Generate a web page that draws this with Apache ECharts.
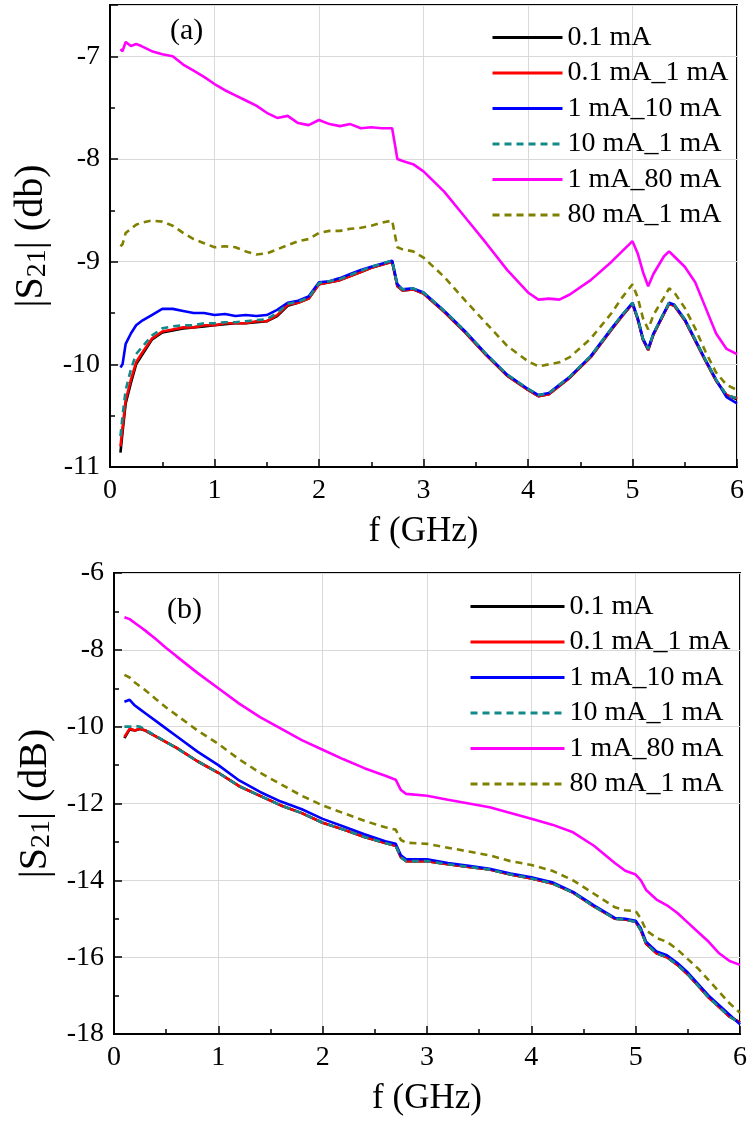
<!DOCTYPE html>
<html>
<head>
<meta charset="utf-8">
<script src="https://cdn.jsdelivr.net/npm/echarts@6/dist/echarts.min.js"></script>
<style>
  html, body { margin: 0; padding: 0; background: #fff; }
  #main { width: 750px; height: 1125px; }
</style>
</head>
<body>
<div id="main"></div>
<script>
// 图例名称
const names = ['0.1 mA', '0.1 mA_1 mA', '1 mA_10 mA', '10 mA_1 mA', '1 mA_80 mA', '80 mA_1 mA']

// (a) 频率点 (GHz)
const freqA = [0.1, 0.12, 0.15, 0.2, 0.25, 0.3, 0.4, 0.5, 0.6, 0.7,
  0.8, 0.9, 1.0, 1.1, 1.2, 1.3, 1.4, 1.5, 1.6, 1.7,
  1.8, 1.9, 2.0, 2.1, 2.2, 2.3, 2.4, 2.5, 2.6, 2.7,
  2.75, 2.8, 2.9, 3.0, 3.2, 3.4, 3.6, 3.8, 4.0, 4.1,
  4.2, 4.3, 4.4, 4.6, 4.8, 4.9, 5.0, 5.05, 5.1, 5.15,
  5.2, 5.3, 5.35, 5.4, 5.5, 5.6, 5.7, 5.8, 5.9, 6.0]

const a01 = [-10.86, -10.66, -10.38, -10.18, -10.0, -9.92, -9.76, -9.69, -9.67, -9.65,
  -9.64, -9.63, -9.62, -9.61, -9.6, -9.6, -9.59, -9.58, -9.53, -9.43,
  -9.4, -9.36, -9.22, -9.2, -9.18, -9.14, -9.1, -9.06, -9.03, -9.0,
  -9.24, -9.28, -9.27, -9.31, -9.49, -9.69, -9.91, -10.11, -10.25, -10.31,
  -10.29, -10.21, -10.13, -9.93, -9.66, -9.53, -9.41, -9.56, -9.76, -9.86,
  -9.71, -9.51, -9.41, -9.43, -9.57, -9.77, -9.97, -10.16, -10.3, -10.34]
const a01_1 = [-10.8, -10.62, -10.35, -10.15, -9.98, -9.9, -9.75, -9.68, -9.66, -9.64,
  -9.64, -9.62, -9.62, -9.6, -9.6, -9.6, -9.58, -9.58, -9.52, -9.42,
  -9.4, -9.36, -9.22, -9.2, -9.18, -9.14, -9.1, -9.06, -9.03, -9.0,
  -9.24, -9.28, -9.27, -9.31, -9.49, -9.69, -9.91, -10.11, -10.25, -10.31,
  -10.29, -10.21, -10.13, -9.93, -9.66, -9.53, -9.41, -9.56, -9.76, -9.86,
  -9.71, -9.51, -9.41, -9.43, -9.57, -9.77, -9.97, -10.16, -10.3, -10.33]
const a1_10 = [-10.03, -10.0, -9.8, -9.7, -9.62, -9.58, -9.52, -9.46, -9.46, -9.48,
  -9.5, -9.5, -9.52, -9.51, -9.53, -9.52, -9.53, -9.52, -9.47, -9.4,
  -9.38, -9.34, -9.2, -9.19, -9.16, -9.12, -9.08, -9.05, -9.02, -8.99,
  -9.22, -9.27, -9.26, -9.3, -9.48, -9.68, -9.9, -10.1, -10.24, -10.3,
  -10.28, -10.2, -10.12, -9.92, -9.65, -9.52, -9.4, -9.55, -9.75, -9.85,
  -9.7, -9.5, -9.4, -9.42, -9.56, -9.76, -9.96, -10.15, -10.32, -10.38]
const a10_1 = [-10.7, -10.5, -10.25, -10.05, -9.9, -9.84, -9.72, -9.65, -9.63, -9.62,
  -9.62, -9.6, -9.6, -9.59, -9.59, -9.58, -9.57, -9.56, -9.5, -9.41,
  -9.39, -9.35, -9.21, -9.19, -9.17, -9.13, -9.09, -9.05, -9.02, -8.99,
  -9.23, -9.27, -9.26, -9.3, -9.48, -9.68, -9.9, -10.1, -10.24, -10.3,
  -10.28, -10.2, -10.12, -9.92, -9.65, -9.52, -9.4, -9.55, -9.75, -9.85,
  -9.7, -9.5, -9.4, -9.42, -9.56, -9.76, -9.96, -10.15, -10.3, -10.33]
const a1_80 = [-6.93, -6.95, -6.86, -6.9, -6.88, -6.9, -6.95, -6.98, -7.0, -7.08,
  -7.14, -7.2, -7.27, -7.33, -7.38, -7.43, -7.48, -7.55, -7.6, -7.58,
  -7.65, -7.67, -7.62, -7.66, -7.68, -7.66, -7.7, -7.69, -7.7, -7.7,
  -8.0, -8.02, -8.05, -8.12, -8.32, -8.57, -8.82, -9.08, -9.3, -9.37,
  -9.36, -9.37, -9.32, -9.18, -9.0, -8.9, -8.8, -8.92, -9.1, -9.24,
  -9.12, -8.95, -8.9, -8.95, -9.05, -9.2, -9.45, -9.7, -9.85, -9.9]
const a80_1 = [-8.85, -8.83, -8.72, -8.68, -8.64, -8.62, -8.6, -8.61, -8.65, -8.72,
  -8.78, -8.82, -8.86, -8.85, -8.86, -8.9, -8.93, -8.92, -8.88, -8.84,
  -8.8, -8.78, -8.72, -8.7, -8.7, -8.68, -8.67, -8.65, -8.62, -8.6,
  -8.86, -8.88, -8.9, -8.96, -9.15, -9.38, -9.6, -9.82, -9.97, -10.02,
  -10.0, -9.98, -9.93, -9.75, -9.5, -9.35, -9.22, -9.35, -9.55, -9.66,
  -9.52, -9.35, -9.26, -9.3, -9.45, -9.65, -9.88, -10.08, -10.2, -10.25]

// (b) 频率点 (GHz)
const freqB = [0.1, 0.15, 0.2, 0.25, 0.3, 0.4, 0.5, 0.6, 0.8, 1.0,
  1.2, 1.4, 1.6, 1.8, 2.0, 2.2, 2.4, 2.6, 2.7, 2.75,
  2.8, 3.0, 3.2, 3.4, 3.6, 3.8, 4.0, 4.2, 4.4, 4.6,
  4.8, 4.9, 5.0, 5.05, 5.1, 5.2, 5.3, 5.4, 5.5, 5.6,
  5.7, 5.8, 5.9, 6.0]

const b01 = [-10.3, -10.07, -10.1, -10.06, -10.1, -10.25, -10.4, -10.55, -10.9, -11.2,
  -11.55, -11.8, -12.05, -12.25, -12.5, -12.68, -12.87, -13.03, -13.1, -13.4,
  -13.5, -13.5, -13.58, -13.65, -13.72, -13.85, -13.95, -14.08, -14.32, -14.68,
  -15.0, -15.02, -15.08, -15.3, -15.65, -15.9, -16.0, -16.2, -16.45, -16.75,
  -17.05, -17.3, -17.55, -17.7]
const b01_1 = [-10.27, -10.05, -10.1, -10.05, -10.1, -10.25, -10.4, -10.55, -10.9, -11.2,
  -11.55, -11.8, -12.05, -12.25, -12.5, -12.68, -12.87, -13.03, -13.1, -13.4,
  -13.5, -13.5, -13.58, -13.65, -13.72, -13.85, -13.95, -14.08, -14.32, -14.68,
  -15.0, -15.02, -15.08, -15.3, -15.65, -15.9, -16.0, -16.2, -16.45, -16.75,
  -17.05, -17.3, -17.55, -17.7]
const b1_10 = [-9.35, -9.3, -9.45, -9.55, -9.65, -9.85, -10.05, -10.25, -10.65, -11.0,
  -11.4, -11.7, -11.95, -12.15, -12.4, -12.6, -12.8, -12.98, -13.05, -13.35,
  -13.45, -13.45, -13.55, -13.62, -13.7, -13.82, -13.92, -14.05, -14.3, -14.65,
  -14.98, -15.0, -15.05, -15.25, -15.6, -15.85, -15.95, -16.15, -16.4, -16.7,
  -17.0, -17.25, -17.5, -17.75]
const b10_1 = [-10.0, -10.0, -9.98, -10.0, -10.08, -10.24, -10.4, -10.56, -10.9, -11.2,
  -11.55, -11.8, -12.05, -12.25, -12.5, -12.68, -12.87, -13.03, -13.1, -13.4,
  -13.5, -13.5, -13.58, -13.65, -13.72, -13.85, -13.95, -14.08, -14.32, -14.68,
  -15.0, -15.02, -15.08, -15.3, -15.65, -15.9, -16.0, -16.2, -16.45, -16.75,
  -17.05, -17.3, -17.55, -17.72]
const b1_80 = [-7.15, -7.2, -7.3, -7.4, -7.5, -7.72, -7.95, -8.17, -8.6, -9.0,
  -9.4, -9.75, -10.05, -10.35, -10.6, -10.85, -11.08, -11.28, -11.38, -11.65,
  -11.75, -11.8, -11.9, -12.0, -12.1, -12.25, -12.4, -12.55, -12.75, -13.1,
  -13.55, -13.75, -13.85, -14.0, -14.25, -14.5, -14.65, -14.85, -15.1, -15.35,
  -15.6, -15.9, -16.1, -16.2]
const b80_1 = [-8.65, -8.72, -8.85, -8.95, -9.05, -9.28, -9.5, -9.7, -10.1, -10.45,
  -10.85, -11.2, -11.5, -11.8, -12.05, -12.25, -12.45, -12.62, -12.68, -12.95,
  -13.02, -13.05, -13.15, -13.25, -13.35, -13.5, -13.6, -13.75, -14.0, -14.35,
  -14.7, -14.78, -14.8, -15.0, -15.3, -15.5, -15.6, -15.8, -16.05, -16.3,
  -16.6, -16.9, -17.2, -17.45]

const FONT = 'Liberation Serif'
const colors = ['#000000', '#ff0000', '#0000ff', '#138a8a', '#ff00ff', '#808000']
const dashed = [false, false, false, true, false, true]

function zip(xs, ys) {
  return xs.map((x, i) => [x, ys[i]])
}

function makeSeries(valuesList, freq, idx) {
  return valuesList.map((vals, i) => ({
    name: names[i],
    type: 'line',
    xAxisIndex: idx,
    yAxisIndex: idx,
    symbol: 'none',
    smooth: false,
    lineStyle: {
      color: colors[i],
      width: 2.6,
      type: dashed[i] ? [7, 5] : 'solid'
    },
    itemStyle: { color: colors[i] },
    data: zip(freq, vals)
  }))
}

function xAxisOf(gridIndex) {
  return {
    type: 'value',
    gridIndex,
    min: 0,
    max: 6,
    interval: 1,
    name: 'f (GHz)',
    nameLocation: 'middle',
    nameGap: 47,
    nameTextStyle: { fontFamily: FONT, fontSize: 35, color: '#000' },
    axisLine: { lineStyle: { color: '#000', width: 2 } },
    axisTick: { inside: true, length: 8, lineStyle: { color: '#000', width: 1.5 } },
    minorTick: { show: true, splitNumber: 2, length: 5, lineStyle: { color: '#000', width: 1.5 } },
    splitLine: { show: true, lineStyle: { color: '#d9d9d9', width: 1 } },
    axisLabel: { fontFamily: FONT, fontSize: 28, color: '#000', margin: 10 }
  }
}

function yAxisOf(gridIndex, min, max, interval, unit) {
  return {
    type: 'value',
    gridIndex,
    min,
    max,
    interval,
    name: '|S{sub|21}| (' + unit + ')',
    nameLocation: 'middle',
    nameRotate: 90,
    nameGap: 58,
    nameTextStyle: {
      fontFamily: FONT, fontSize: 40, color: '#000',
      rich: { sub: { fontFamily: FONT, fontSize: 28, color: '#000', verticalAlign: 'bottom', lineHeight: 28, padding: [14, 0, 0, 0] } }
    },
    axisLine: { lineStyle: { color: '#000', width: 2 } },
    axisTick: { inside: true, length: 8, lineStyle: { color: '#000', width: 1.5 } },
    minorTick: { show: true, splitNumber: 2, length: 5, lineStyle: { color: '#000', width: 1.5 } },
    splitLine: { show: true, lineStyle: { color: '#d9d9d9', width: 1 } },
    axisLabel: {
      fontFamily: FONT, fontSize: 28, color: '#000', margin: 10,
      formatter: v => (v % interval === 0 ? String(v) : '')
    }
  }
}

function legendOf(left, top, itemWidth) {
  return {
    data: names,
    orient: 'vertical',
    left,
    top,
    itemWidth,
    itemHeight: 14,
    itemGap: 4.5,
    selectedMode: false,
    itemStyle: { opacity: 0 },
    lineStyle: { width: 3 },
    textStyle: { fontFamily: FONT, fontSize: 28, color: '#000', lineHeight: 31 }
  }
}

const chart = echarts.init(document.getElementById('main'))

const option = {
  animation: false,
  backgroundColor: '#fff',
  grid: [
    { left: 110, top: 5, width: 627, height: 462, show: true, borderColor: '#000', borderWidth: 2 },
    { left: 114, top: 573, width: 627, height: 461, show: true, borderColor: '#000', borderWidth: 2 }
  ],
  xAxis: [xAxisOf(0), xAxisOf(1)],
  yAxis: [
    yAxisOf(0, -11, -6.5, 1, 'db'),
    yAxisOf(1, -18, -6, 2, 'dB')
  ],
  legend: [legendOf(486, 17, 70), legendOf(464, 586, 94)],
  graphic: [
    { type: 'text', left: 170, top: 16, style: { text: '(a)', fontFamily: FONT, fontSize: 30, fill: '#000' } },
    { type: 'text', left: 167, top: 595, style: { text: '(b)', fontFamily: FONT, fontSize: 30, fill: '#000' } }
  ],
  series: [
    ...makeSeries([a01, a01_1, a1_10, a10_1, a1_80, a80_1], freqA, 0),
    ...makeSeries([b01, b01_1, b1_10, b10_1, b1_80, b80_1], freqB, 1)
  ]
}

chart.setOption(option)
</script>
</body>
</html>
